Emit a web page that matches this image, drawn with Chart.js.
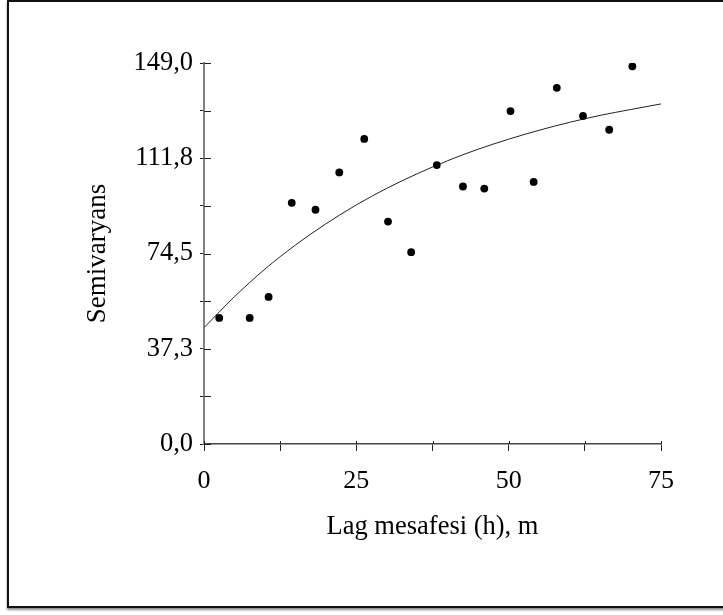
<!DOCTYPE html>
<html><head><meta charset="utf-8">
<script src="https://cdn.jsdelivr.net/npm/chart.js@4/dist/chart.umd.min.js"></script>
<style>
html,body{margin:0;padding:0;background:#fff;width:723px;height:615px;overflow:hidden}
#frame{position:absolute;left:7px;top:0;width:740px;height:604px;border:2px solid #111;border-right:none;box-shadow:0 2px 2px rgba(0,0,0,.45)}
#wrap{position:absolute;left:0;top:0;width:723px;height:615px}
</style></head><body>
<div id="frame"></div>
<div id="wrap"><canvas id="c" width="723" height="615"></canvas></div>
<script>
// Experimental semivariogram (lag distance, semivariance)
const lagDistances = [2.5, 7.5, 10.6, 14.4, 18.3, 22.2, 26.3, 30.2, 34.0, 38.2, 42.5, 46.0, 50.3, 54.1, 57.9, 62.2, 66.5, 70.3];
const semivariance = [49.3, 49.3, 57.5, 94.3, 91.6, 106.2, 119.3, 87.0, 75.0, 109.1, 100.7, 99.9, 130.2, 102.5, 139.3, 128.3, 122.9, 147.7];
// Fitted model curve
const modelLag = [0, 5, 10, 15, 20, 25, 30, 35, 40, 45, 50, 55, 60, 65, 70, 75];
const modelSemivariance = [45.5, 57.6, 68.4, 77.8, 86.1, 93.5, 100.0, 105.7, 110.8, 115.3, 119.2, 122.7, 125.8, 128.5, 130.8, 133.0];
// Axis ticks
const yTickValues = [0, 18.625, 37.25, 55.875, 74.5, 93.125, 111.75, 130.375, 149];
const yTickLabels = ['0,0', '', '37,3', '', '74,5', '', '111,8', '', '149,0'];
const xTickValues = [0, 12.5, 25, 37.5, 50, 62.5, 75];
const xTickLabels = ['0', '', '25', '', '50', '', '75'];
const xTitle = 'Lag mesafesi (h), m';
const yTitle = 'Semivaryans';

const FONT = "'Liberation Serif', 'Times New Roman', serif";

const innerTicks = {
  id: 'innerTicks',
  afterDraw(chart) {
    const {ctx, chartArea, scales} = chart;
    ctx.save();
    ctx.strokeStyle = '#222';
    ctx.lineWidth = 1;
    ctx.beginPath();
    yTickValues.forEach(v => {
      const y = Math.round(scales.y.getPixelForValue(v)) + 0.5;
      ctx.moveTo(chartArea.left, y);
      ctx.lineTo(chartArea.left + 7, y);
    });
    xTickValues.forEach(v => {
      const x = Math.round(scales.x.getPixelForValue(v)) + 0.5;
      ctx.moveTo(x, chartArea.bottom);
      ctx.lineTo(x, chartArea.bottom - 3);
    });
    ctx.stroke();
    ctx.restore();
  }
};

new Chart(document.getElementById('c'), {
  type: 'scatter',
  data: {
    datasets: [
      {
        label: 'Deneysel',
        data: lagDistances.map((x, i) => ({x, y: semivariance[i]})),
        backgroundColor: '#000',
        borderWidth: 0,
        pointRadius: 3.9,
        order: 0
      },
      {
        label: 'Model',
        data: modelLag.map((x, i) => ({x, y: modelSemivariance[i]})),
        showLine: true,
        borderColor: '#222',
        borderWidth: 1,
        pointRadius: 0,
        cubicInterpolationMode: 'monotone',
        order: 1
      }
    ]
  },
  options: {
    responsive: false,
    animation: false,
    layout: {padding: {left: 0, top: 63, right: 62, bottom: 0}},
    plugins: {legend: {display: false}, tooltip: {enabled: false}},
    scales: {
      x: {
        type: 'linear', min: 0, max: 75,
        afterBuildTicks: a => { a.ticks = xTickValues.map(v => ({value: v})); },
        afterFit: s => { s.height = 171; },
        ticks: {
          autoSkip: false, maxRotation: 0, padding: 15,
          color: '#000', font: {family: FONT, size: 26},
          callback: (v, i) => xTickLabels[i]
        },
        grid: {drawOnChartArea: false, drawTicks: true, tickLength: 7, tickColor: '#222', lineWidth: 1},
        border: {display: true, color: '#444', width: 1.5},
        title: {display: true, text: xTitle, color: '#000', font: {family: FONT, size: 26.5}, padding: {top: 0, bottom: 72}}
      },
      y: {
        type: 'linear', min: 0, max: 149,
        afterBuildTicks: a => { a.ticks = yTickValues.map(v => ({value: v})); },
        afterFit: s => { s.width = 204; },
        ticks: {
          autoSkip: false, padding: 7,
          color: '#000', font: {family: FONT, size: 26.5},
          callback: (v, i) => yTickLabels[i]
        },
        grid: {drawOnChartArea: false, drawTicks: true, tickLength: 4, tickColor: '#222', lineWidth: 1},
        border: {display: true, color: '#808080', width: 2},
        title: {display: true, text: yTitle, color: '#000', font: {family: FONT, size: 27}, padding: {top: 82, bottom: 0}}
      }
    }
  },
  plugins: [innerTicks]
});
</script>
</body></html>
